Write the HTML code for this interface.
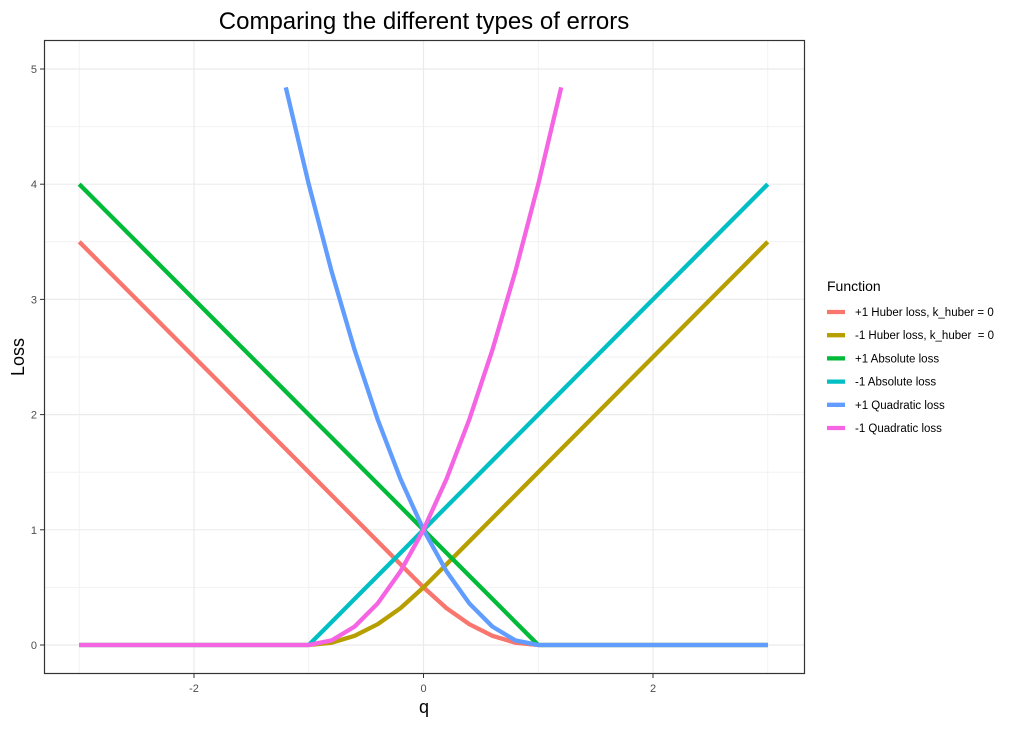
<!DOCTYPE html>
<html><head><meta charset="utf-8"><style>
body{margin:0;background:#fff;}
svg text{font-family:"Liberation Sans",Arial,sans-serif;}
</style></head><body>
<svg id="chart" width="1019" height="724" xmlns="http://www.w3.org/2000/svg">
<rect width="1019" height="724" fill="#fff"/>
<text x="424" y="29" font-size="24" text-anchor="middle" fill="#000">Comparing the different types of errors</text>
<g id="grid"></g>
<g id="lines"></g>
<rect x="44.5" y="40.5" width="760" height="633" fill="none" stroke="#333" stroke-width="1.2"/>
<g id="axes"></g>
<text x="424" y="713" font-size="18" text-anchor="middle" fill="#000">q</text>
<text x="24" y="357" font-size="18" text-anchor="middle" fill="#000" transform="rotate(-90 24 357)">Loss</text>
<g id="legend">
<text x="827" y="291" font-size="14" fill="#000">Function</text>
</g>
</svg>
<script>
const qValues=[-3,-2.8,-2.6,-2.4,-2.2,-2,-1.8,-1.6,-1.4,-1.2,-1,-0.8,-0.6,-0.4,-0.2,0,0.2,0.4,0.6,0.8,1,1.2,1.4,1.6,1.8,2,2.2,2.4,2.6,2.8,3];
const huberPos=[3.5,3.3,3.1,2.9,2.7,2.5,2.3,2.1,1.9,1.7,1.5,1.3,1.1,0.9,0.7,0.5,0.32,0.18,0.08,0.02,0,0,0,0,0,0,0,0,0,0,0];
const huberNeg=[0,0,0,0,0,0,0,0,0,0,0,0.02,0.08,0.18,0.32,0.5,0.7,0.9,1.1,1.3,1.5,1.7,1.9,2.1,2.3,2.5,2.7,2.9,3.1,3.3,3.5];
const absPos=[4,3.8,3.6,3.4,3.2,3,2.8,2.6,2.4,2.2,2,1.8,1.6,1.4,1.2,1,0.8,0.6,0.4,0.2,0,0,0,0,0,0,0,0,0,0,0];
const absNeg=[0,0,0,0,0,0,0,0,0,0,0,0.2,0.4,0.6,0.8,1,1.2,1.4,1.6,1.8,2,2.2,2.4,2.6,2.8,3,3.2,3.4,3.6,3.8,4];
const quadPos=[null,null,null,null,null,null,null,null,null,4.84,4,3.24,2.56,1.96,1.44,1,0.64,0.36,0.16,0.04,0,0,0,0,0,0,0,0,0,0,0];
const quadNeg=[0,0,0,0,0,0,0,0,0,0,0,0.04,0.16,0.36,0.64,1,1.44,1.96,2.56,3.24,4,4.84,null,null,null,null,null,null,null,null,null];
const seriesNames=["+1 Huber loss, k_huber = 0","-1 Huber loss, k_huber \u00a0= 0","+1 Absolute loss","-1 Absolute loss","+1 Quadratic loss","-1 Quadratic loss"];
const seriesColors=["#F8766D","#B79F00","#00BA38","#00BFC4","#619CFF","#F564E3"];
const xTicks=[-2,0,2];
const xMinor=[-3,-1,1,3];
const yTicks=[0,1,2,3,4,5];
const yMinor=[0.5,1.5,2.5,3.5,4.5];

const NS="http://www.w3.org/2000/svg";
const sx=v=>423.5+v*114.75;
const sy=v=>645-v*115.2;
function mk(tag,attrs,parent){const e=document.createElementNS(NS,tag);for(const k in attrs)e.setAttribute(k,attrs[k]);parent.appendChild(e);return e;}
const grid=document.getElementById('grid'),axes=document.getElementById('axes'),lines=document.getElementById('lines'),legend=document.getElementById('legend');
xMinor.forEach(v=>{const l=mk('line',{x1:sx(v),x2:sx(v),y1:40,y2:674,stroke:'#f2f2f2','stroke-width':1},grid);

});
yMinor.forEach(v=>{const l=mk('line',{x1:44,x2:805,y1:sy(v),y2:sy(v),stroke:'#f2f2f2','stroke-width':1},grid);

});
xTicks.forEach(v=>{const l=mk('line',{x1:sx(v),x2:sx(v),y1:40,y2:674,stroke:'#ebebeb','stroke-width':1.2},grid);


const t=mk('line',{x1:sx(v),x2:sx(v),y1:674,y2:678,stroke:'#333','stroke-width':1},axes);


const tx=mk('text',{x:sx(v),y:692,'font-size':11,'text-anchor':'middle',fill:'#4d4d4d'},axes);tx.textContent=v;

});
yTicks.forEach(v=>{const l=mk('line',{x1:44,x2:805,y1:sy(v),y2:sy(v),stroke:'#ebebeb','stroke-width':1.2},grid);


const t=mk('line',{x1:40,x2:44,y1:sy(v),y2:sy(v),stroke:'#333','stroke-width':1},axes);


const tx=mk('text',{x:37,y:sy(v)+4,'font-size':11,'text-anchor':'end',fill:'#4d4d4d'},axes);tx.textContent=v;

});
const allSeries=[huberPos,huberNeg,absPos,absNeg,quadPos,quadNeg];
const slugs=['huber-pos','huber-neg','absolute-pos','absolute-neg','quadratic-pos','quadratic-neg'];
allSeries.forEach((s,i)=>{let d='';let pen=false;
s.forEach((v,j)=>{if(v===null){pen=false;return;}d+=(pen?'L':'M')+sx(qValues[j]).toFixed(2)+' '+sy(v).toFixed(2);pen=true;});
const p=mk('path',{d:d,fill:'none',stroke:seriesColors[i],'stroke-width':4.3,'stroke-linejoin':'round','stroke-linecap':'butt'},lines);


const y=312+i*23.2;
const k=mk('line',{x1:827,x2:845,y1:y,y2:y,stroke:seriesColors[i],'stroke-width':4.3},legend);


const t=mk('text',{x:855,y:y+4,'font-size':11.5,fill:'#000'},legend);t.textContent=seriesNames[i];

});
</script>
</body></html>
